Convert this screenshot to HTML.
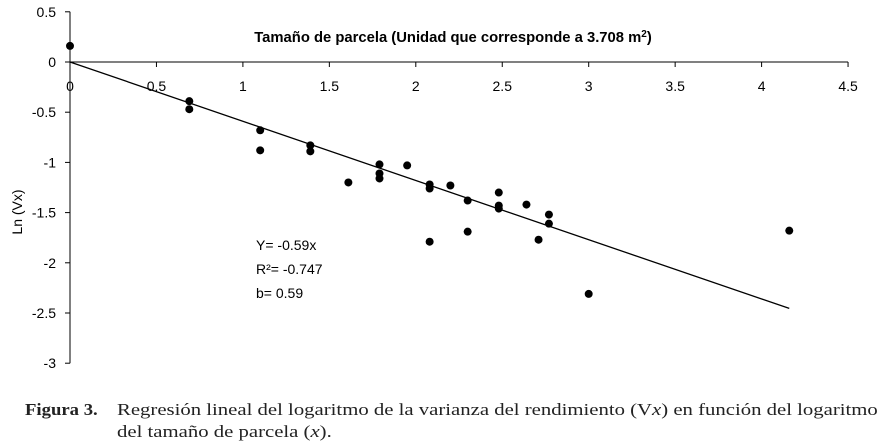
<!DOCTYPE html>
<html><head><meta charset="utf-8"><style>
body{margin:0;background:#fff;width:885px;height:448px;overflow:hidden}
svg text{font-family:"Liberation Sans",sans-serif;fill:#000}
.cap{position:absolute;left:117px;top:399px;font-family:"Liberation Serif",serif;font-size:17px;line-height:22px;color:#222;transform:scaleX(1.22);transform-origin:0 0;white-space:nowrap}
.fig{position:absolute;left:25px;top:399px;font-family:"Liberation Serif",serif;font-size:17px;line-height:22px;font-weight:bold;color:#222;transform:scaleX(1.1);transform-origin:0 0}
</style></head><body>
<svg id="chart" width="885" height="400" style="position:absolute;left:0;top:0"></svg>
<div class="fig">Figura 3.</div>
<div class="cap">Regresión lineal del logaritmo de la varianza del rendimiento (V<i>x</i>) en función del logaritmo<br>del tamaño de parcela (<i>x</i>).</div>
<script>
const xs=[0,0.69,0.69,1.10,1.10,1.39,1.39,1.61,1.79,1.79,1.79,1.95,2.08,2.08,2.08,2.20,2.30,2.30,2.48,2.48,2.48,2.64,2.71,2.77,2.77,3.0,4.16];
const ys=[0.16,-0.39,-0.47,-0.68,-0.88,-0.83,-0.89,-1.20,-1.02,-1.11,-1.16,-1.03,-1.22,-1.26,-1.79,-1.23,-1.38,-1.69,-1.30,-1.43,-1.46,-1.42,-1.77,-1.52,-1.61,-2.31,-1.68];
const xTicks=[0,0.5,1,1.5,2,2.5,3,3.5,4,4.5];
const yTicks=[0.5,0,-0.5,-1,-1.5,-2,-2.5,-3];
const slope=-0.59, lineEnd=4.16;
const X=v=>70+v*172.9, Y=v=>62-v*100.4;
const s=document.getElementById('chart'),NS='http://www.w3.org/2000/svg';
function mk(t,a,txt){const e=document.createElementNS(NS,t);for(const k in a)e.setAttribute(k,a[k]);if(txt!=null)e.textContent=txt;s.appendChild(e);return e;}
let e;
e=mk('line',{x1:X(0),y1:Y(0.5),x2:X(0),y2:Y(-3),stroke:'#000'});


e=mk('line',{x1:X(0),y1:Y(0),x2:X(4.5),y2:Y(0),stroke:'#000'});


yTicks.forEach(v=>{
 e=mk('line',{x1:X(0)-5,y1:Y(v),x2:X(0),y2:Y(v),stroke:'#000'});
 
 
 e=mk('text',{x:X(0)-14,y:Y(v)+5,'text-anchor':'end','font-size':14},String(v));
 
 
});
xTicks.forEach(v=>{
 e=mk('line',{x1:X(v),y1:Y(0),x2:X(v),y2:Y(0)+5,stroke:'#000'});
 
 
 e=mk('text',{x:X(v),y:Y(0)+29,'text-anchor':'middle','font-size':14},String(v));
 
 
});
e=mk('text',{x:453,y:42,'text-anchor':'middle','font-size':14.8,'font-weight':'bold'},'Tamaño de parcela (Unidad que corresponde a 3.708 m');


const sup=document.createElementNS(NS,'tspan');sup.setAttribute('font-size','10');sup.setAttribute('dy','-5');sup.textContent='2';e.appendChild(sup);
const cl=document.createElementNS(NS,'tspan');cl.setAttribute('dy','5');cl.textContent=')';e.appendChild(cl);
e=mk('text',{x:22,y:212,'text-anchor':'middle','font-size':14,transform:'rotate(-90 22 212)'},'Ln (Vx)');


e=mk('line',{x1:X(0),y1:Y(0),x2:X(lineEnd),y2:Y(slope*lineEnd),stroke:'#000','stroke-width':1.3});


xs.forEach((x,i)=>{
 e=mk('circle',{cx:X(x),cy:Y(ys[i]),r:4,fill:'#000'});
 
 
});
[['Y= -0.59x',250],['R²= -0.747',274],['b= 0.59',298]].forEach(([t,y])=>{
 e=mk('text',{x:256,y:y,'font-size':14},t);
 
 
});
</script>
</body></html>
